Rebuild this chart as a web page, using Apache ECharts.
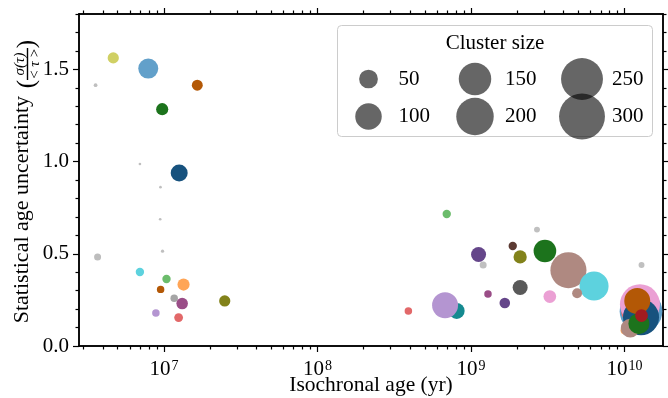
<!DOCTYPE html>
<html>
<head>
<meta charset="utf-8">
<script src="https://cdn.jsdelivr.net/npm/echarts@6/dist/echarts.min.js"></script>
<style>
  html, body { margin: 0; padding: 0; background: #ffffff; }
  #chart { width: 668px; height: 398px; }
</style>
</head>
<body>
<div id="chart"></div>
<script>
// Cluster catalogue, listed in drawing order (later entries are drawn on top).
const clusterAges = [
  4.68e6, 7.91e6, 3.59e6, 1.65e7, 9.75e6, 6.98e6, 1.258e7, 9.5e6, 9.46e6, 9.8e6,
  3.70e6, 6.98e6, 1.04e7, 1.343e7, 9.52e6, 1.167e7, 1.315e7, 2.49e7, 8.87e6, 1.247e7,
  6.95e8, 2.69e9, 1.87e9, 4.31e9, 6.33e9, 4.91e9, 3.03e9, 1.12e9, 2.09e9, 1.20e9,
  2.09e9, 1.29e9, 1.66e9, 3.26e9, 8.07e8, 6.78e8, 3.91e8, 1.29e10,
  1.28e10, 1.09e10, 1.26e10, 1.28e10, 1.0e10, 1.09e10, 1.21e10, 1.24e10, 1.29e10
];
const clusterUncertainty = [
  1.562, 1.504, 1.414, 1.414, 1.284, 0.987, 0.938, 0.861, 0.687, 0.514,
  0.483, 0.401, 0.363, 0.333, 0.307, 0.259, 0.230, 0.244, 0.179, 0.154,
  0.716, 0.631, 0.542, 0.411, 0.325, 0.286, 0.515, 0.496, 0.483, 0.439,
  0.317, 0.282, 0.233, 0.268, 0.190, 0.221, 0.190, 0.439,
  0.188, 0.182, 0.226, 0.156, 0.085, 0.097, 0.244, 0.121, 0.165
];
const clusterSize = [
  18, 57, 2, 17, 21, 1, 41, 1, 1, 1.5,
  7, 10, 10, 21, 8, 8, 19, 18, 8, 11,
  10, 5, 10, 185, 120, 14, 73, 32, 25, 7,
  32, 8, 16, 23, 36, 96, 8, 5,
  260, 46, 228, 185, 9, 51, 96, 63, 23
];
const clusterColors = [
  '#d0d064', '#62a0ca', '#bfbfbf', '#b35806', '#1c731c', '#bfbfbf', '#17527e', '#bfbfbf', '#bfbfbf', '#bfbfbf',
  '#bdbdbd', '#5dd2de', '#6bbc6b', '#ffa556', '#b35806', '#a5a5a5', '#9a4d87', '#82821a', '#b495d1', '#e26869',
  '#6bbc6b', '#c0c0c0', '#5c3a33', '#af8981', '#5dd2de', '#af8981', '#1c731c', '#65468a', '#82821a', '#c0c0c0',
  '#595959', '#9a4d87', '#65468a', '#eba0d4', '#158a90', '#b495d1', '#e26869', '#c0c0c0',
  '#62a0ca', '#e26869', '#eba0d4', '#17527e', '#ffa556', '#af8981', '#b35806', '#1c731c', '#a21c20'
];

// Size key and tick positions
const legendSizes = [50, 100, 150, 200, 250, 300];
const xMajorTicks = [1e7, 1e8, 1e9, 1e10];
const yMajorTicks = [0, 0.5, 1.0, 1.5];

const X_MIN = 2.8e6, X_MAX = 1.78e10;
const Y_MIN = 0, Y_MAX = 1.8;
const FONT = "'Liberation Serif', 'Times New Roman', serif";
const FS = 21;

// marker diameter (px) grows with the square root of the member count
const diameter = n => 2.65 * Math.sqrt(n);

const xMinorTicks = [];
for (let e = 6; e <= 10; e++) {
  for (let k = 2; k <= 9; k++) {
    const v = k * Math.pow(10, e);
    if (v > X_MIN && v < X_MAX) xMinorTicks.push(v);
  }
}
const yMinorTicks = [];
for (let i = 1; i <= 18; i++) if (i % 5 !== 0) yMinorTicks.push(+(i / 10).toFixed(1));

const grid = { left: 79, right: 5, top: 14, bottom: 52, containLabel: false, outerBoundsMode: 'none' };

function xAxisDef(position, ticks, len, withLabels) {
  return {
    type: 'log', logBase: 10, min: X_MIN, max: X_MAX, position: position, gridIndex: 0,
    axisLine: { show: true, onZero: false, lineStyle: { color: '#000', width: 1.5 } },
    axisTick: { show: true, inside: false, length: len, customValues: ticks, lineStyle: { color: '#000', width: 1.2 } },
    axisLabel: {
      show: withLabels, customValues: ticks, margin: 13, verticalAlign: 'top',
      formatter: v => '{b|10}{s|' + Math.round(Math.log10(v)) + '}',
      rich: {
        b: { fontFamily: FONT, fontSize: FS, color: '#000', lineHeight: 21, verticalAlign: 'bottom', padding: [2, 0, 0, 0] },
        s: { fontFamily: FONT, fontSize: 14, color: '#000', lineHeight: 14, verticalAlign: 'top', padding: [0, 0, 0, 1] }
      }
    },
    splitLine: { show: false }, minorTick: { show: false }, minorSplitLine: { show: false },
    name: withLabels ? 'Isochronal age (yr)' : '',
    nameLocation: 'middle', nameGap: 28, nameMoveOverlap: false,
    nameTextStyle: { fontFamily: FONT, fontSize: 21.5, color: '#000', verticalAlign: 'top' },
    silent: true
  };
}

function yAxisDef(position, ticks, len, withLabels) {
  return {
    type: 'value', min: Y_MIN, max: Y_MAX, position: position, gridIndex: 0,
    axisLine: { show: true, onZero: false, lineStyle: { color: '#000', width: 1.5 } },
    axisTick: { show: true, inside: false, length: len, customValues: ticks, lineStyle: { color: '#000', width: 1.2 } },
    axisLabel: {
      show: withLabels, customValues: ticks, margin: 10,
      fontFamily: FONT, fontSize: FS, color: '#000',
      formatter: v => v.toFixed(1)
    },
    splitLine: { show: false }, minorTick: { show: false }, minorSplitLine: { show: false },
    silent: true
  };
}

// y-axis title: plain words, then a bracketed fraction sigma(tau) / <tau>
const yTitle = [
  { type: 'text', x: 22, y: 96, rotation: Math.PI / 2,
    style: { text: 'Statistical age uncertainty', font: '22px ' + FONT, fill: '#000',
             textAlign: 'right', align: 'right', textVerticalAlign: 'middle', verticalAlign: 'middle' } },
  { type: 'text', x: 27, y: 84, rotation: Math.PI / 2,
    style: { text: '(', font: '25px ' + FONT, fill: '#000',
             textAlign: 'center', align: 'center', textVerticalAlign: 'middle', verticalAlign: 'middle' } },
  { type: 'text', x: 20, y: 64, rotation: Math.PI / 2,
    style: { text: 'σ(τ)', font: 'italic 15px ' + FONT, fill: '#000',
             textAlign: 'center', align: 'center', textVerticalAlign: 'middle', verticalAlign: 'middle' } },
  { type: 'rect', shape: { x: 26.8, y: 48, width: 1.4, height: 32 }, style: { fill: '#000' } },
  { type: 'text', x: 35, y: 64, rotation: Math.PI / 2,
    style: { text: '<\u2009τ\u2009>', font: 'italic 15px ' + FONT, fill: '#000',
             textAlign: 'center', align: 'center', textVerticalAlign: 'middle', verticalAlign: 'middle' } },
  { type: 'text', x: 27, y: 44, rotation: Math.PI / 2,
    style: { text: ')', font: '25px ' + FONT, fill: '#000',
             textAlign: 'center', align: 'center', textVerticalAlign: 'middle', verticalAlign: 'middle' } }
];

// size key: two rows, three columns (column-major order)
const keyCols = [368.5, 475, 582];
const keyRows = [79, 116.5];
const keyLabelOffset = 30;
const keyItems = [];
legendSizes.forEach((n, i) => {
  const cx = keyCols[Math.floor(i / 2)];
  const cy = keyRows[i % 2];
  keyItems.push({ type: 'circle', shape: { cx: cx, cy: cy, r: diameter(n) / 2 },
                  style: { fill: 'rgba(0,0,0,0.6)' }, z: 101 });
  keyItems.push({ type: 'text', x: cx + keyLabelOffset, y: cy,
                  style: { text: String(n), font: FS + 'px ' + FONT, fill: '#000',
                           textAlign: 'left', align: 'left', textVerticalAlign: 'middle', verticalAlign: 'middle' }, z: 102 });
});
const keyFrame = [
  { type: 'rect', shape: { x: 337.5, y: 25.5, width: 315, height: 111, r: 4 },
    style: { fill: 'rgba(255,255,255,0.8)', stroke: '#cccccc', lineWidth: 1 }, z: 100 },
  { type: 'text', x: 495, y: 43,
    style: { text: 'Cluster size', font: FS + 'px ' + FONT, fill: '#000',
             textAlign: 'center', align: 'center', textVerticalAlign: 'middle', verticalAlign: 'middle' }, z: 102 }
];

const chart = echarts.init(document.getElementById('chart'), null, { renderer: 'canvas' });
chart.setOption({
  animation: false,
  backgroundColor: '#ffffff',
  grid: grid,
  xAxis: [
    xAxisDef('bottom', xMajorTicks, 6, true),
    xAxisDef('bottom', xMinorTicks, 3.5, false),
    xAxisDef('top', xMajorTicks, 6, false),
    xAxisDef('top', xMinorTicks, 3.5, false)
  ],
  yAxis: [
    yAxisDef('left', yMajorTicks, 6, true),
    yAxisDef('left', yMinorTicks, 3.5, false),
    yAxisDef('right', yMajorTicks, 6, false),
    yAxisDef('right', yMinorTicks, 3.5, false)
  ],
  series: [{
    type: 'scatter', xAxisIndex: 0, yAxisIndex: 0,
    data: clusterAges.map((a, i) => ({
      value: [a, clusterUncertainty[i], clusterSize[i]],
      itemStyle: { color: clusterColors[i] }
    })),
    symbol: 'circle',
    symbolSize: v => diameter(v[2]),
    itemStyle: { opacity: 1, borderWidth: 0 },
    emphasis: { disabled: true },
    silent: true,
    clip: true
  }],
  graphic: { elements: yTitle.concat(keyFrame, keyItems) }
});
</script>
</body>
</html>
